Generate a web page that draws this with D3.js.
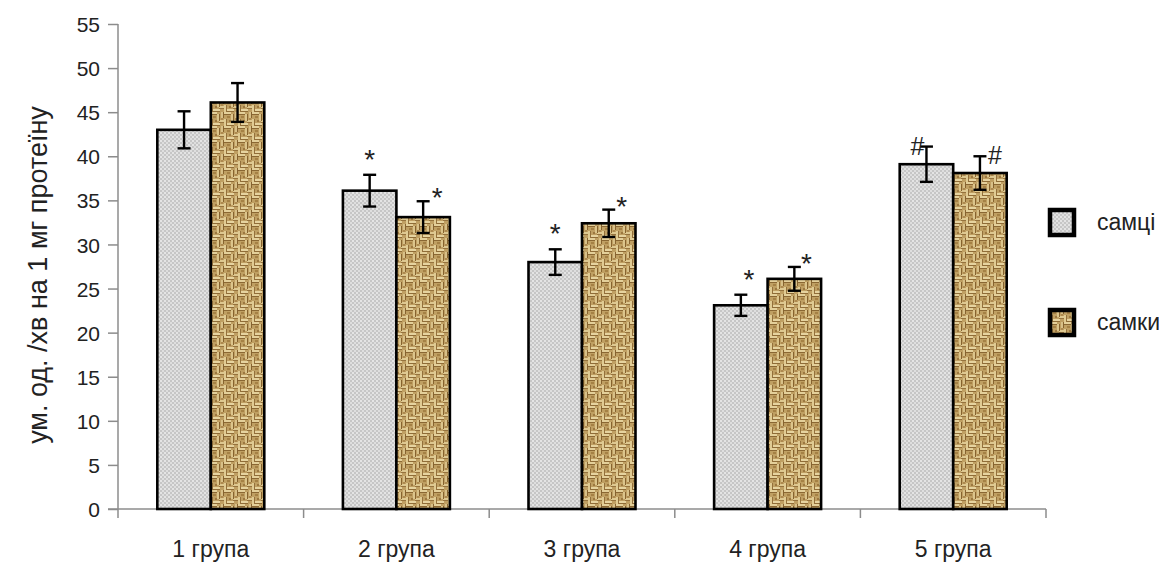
<!DOCTYPE html>
<html><head><meta charset="utf-8">
<script src="https://cdn.jsdelivr.net/npm/d3@7"></script>
<style>body{margin:0;background:#fff}svg{display:block}text{font-family:"Liberation Sans",Arial,sans-serif}</style>
</head><body>
<svg id="c" width="1159" height="564"></svg>
<script>
const categories = ["1 група","2 група","3 група","4 група","5 група"];
const seriesNames = ["самці","самки"];
const males = [43.0, 36.1, 28.0, 23.1, 39.1];
const females = [46.1, 33.1, 32.4, 26.1, 38.1];
const maleErr = [2.1, 1.8, 1.45, 1.2, 2.0];
const femaleErr = [2.2, 1.8, 1.55, 1.35, 1.9];
const maleMarks = ["", "*", "*", "*", "#"];
const femaleMarks = ["", "*", "*", "*", "#"];
const yTicks = [0,5,10,15,20,25,30,35,40,45,50,55];

const svg = d3.select("#c");
const defs = svg.append("defs");
// male pattern: grey with white dots
const pm = defs.append("pattern").attr("id","pm").attr("patternUnits","userSpaceOnUse").attr("width",4).attr("height",4);
pm.append("rect").attr("width",4).attr("height",4).attr("fill","#c6c6c6");
pm.append("circle").attr("cx",1).attr("cy",1).attr("r",1).attr("fill","#eeeeee");
pm.append("circle").attr("cx",3).attr("cy",3).attr("r",1).attr("fill","#e6e6e6");
// female pattern: burlap weave
const pf = defs.append("pattern").attr("id","pf").attr("patternUnits","userSpaceOnUse").attr("width",14).attr("height",14);
pf.append("rect").attr("width",14).attr("height",14).attr("fill","#bf9f62");
const weave = [
  [0,0,7,2,"#e4d09a"],[7,2,2,7,"#dcc58c"],[0,7,2,7,"#e0cb93"],[3,11,7,2,"#e6d39f"],[11,0,2,6,"#d8c088"],[9,8,5,2,"#dec890"],
  [0,2,7,1,"#8a6733"],[9,2,1,7,"#86632f"],[2,7,1,7,"#93703b"],[3,13,7,1,"#8f6c37"],[13,0,1,6,"#86632f"],[9,10,5,1,"#96733e"],
  [3,4,3,2,"#a58145"],[11,6,2,2,"#ad894f"],[5,8,2,2,"#9c7840"]
];
weave.forEach(w=>pf.append("rect").attr("x",w[0]).attr("y",w[1]).attr("width",w[2]).attr("height",w[3]).attr("fill",w[4]));

const x0 = d3.scaleBand().domain(categories).range([118,1046]).padding(0);
const x1 = d3.scaleBand().domain(seriesNames).range([0,x0.bandwidth()]).paddingInner(0).paddingOuter(0.735);
const y = d3.scaleLinear().domain([0,55]).range([509,24]);

// y axis
const ya = svg.append("g").attr("transform","translate(118,0)")
  .call(d3.axisLeft(y).tickValues(yTicks).tickSize(10).tickPadding(8));
ya.select(".domain").attr("stroke","#8c8c8c").attr("stroke-width",1.5).attr("d","M0,24V509");
ya.selectAll(".tick line").attr("stroke","#8c8c8c").attr("stroke-width",1.5);
ya.selectAll(".tick text").attr("font-size",21).attr("fill","#222").attr("dy","0.36em");

// x axis
const xa = svg.append("g").attr("transform","translate(0,509)");
xa.append("line").attr("x1",108).attr("x2",1046).attr("stroke","#8c8c8c").attr("stroke-width",1.5);
const bounds = categories.map(c=>x0(c)).concat([x0(categories[4])+x0.bandwidth()]);
xa.selectAll("line.t").data(bounds).enter().append("line").attr("class","t")
  .attr("x1",d=>d).attr("x2",d=>d).attr("y1",0).attr("y2",9).attr("stroke","#8c8c8c").attr("stroke-width",1.5);
xa.selectAll("text").data(categories).enter().append("text")
  .attr("x",d=>x0(d)+x0.bandwidth()/2).attr("y",48).attr("text-anchor","middle")
  .attr("font-size",23).attr("fill","#222").text(d=>d);

// y title
svg.append("text").attr("transform","translate(47,275) rotate(-90)").attr("text-anchor","middle")
  .attr("font-size",27).attr("fill","#222").text("ум. од. /хв на 1 мг протеїну");

const series = [
  {name:seriesNames[0], vals:males, err:maleErr, marks:maleMarks, fill:"url(#pm)", mdx:[0,0,0,8,-9], mdy:-6},
  {name:seriesNames[1], vals:females, err:femaleErr, marks:femaleMarks, fill:"url(#pf)", mdx:[14,14,13,12,15], mdy:6}
];
series.forEach(s=>{
  const g = svg.append("g");
  categories.forEach((c,i)=>{
    const bx = x0(c)+x1(s.name), bw = x1.bandwidth(), cx = bx+bw/2;
    g.append("rect").attr("x",bx).attr("y",y(s.vals[i])).attr("width",bw).attr("height",y(0)-y(s.vals[i]))
      .attr("fill",s.fill).attr("stroke","#000").attr("stroke-width",2.6);
    const hi = y(s.vals[i]+s.err[i]), lo = y(s.vals[i]-s.err[i]);
    g.append("line").attr("x1",cx).attr("x2",cx).attr("y1",hi).attr("y2",lo).attr("stroke","#000").attr("stroke-width",2.4);
    g.append("line").attr("x1",cx-6.5).attr("x2",cx+6.5).attr("y1",hi).attr("y2",hi).attr("stroke","#000").attr("stroke-width",2.4);
    g.append("line").attr("x1",cx-6.5).attr("x2",cx+6.5).attr("y1",lo).attr("y2",lo).attr("stroke","#000").attr("stroke-width",2.4);
    const m = s.marks[i];
    if (m) {
      const isHash = m === "#";
      g.append("text").attr("x",cx+s.mdx[i]).attr("y",isHash ? hi+8 : hi+s.mdy)
        .attr("text-anchor","middle").attr("font-family","Liberation Serif, serif")
        .attr("font-size",isHash?25:28).attr("fill","#222").text(m);
    }
  });
});

// legend
const lg = svg.append("g");
seriesNames.forEach((n,i)=>{
  const cy = 222 + i*100;
  lg.append("rect").attr("x",1050).attr("y",cy-12).attr("width",24).attr("height",25)
    .attr("fill",i===0?"url(#pm)":"url(#pf)").attr("stroke","#000").attr("stroke-width",4.5);
  lg.append("text").attr("x",1097).attr("y",cy+8).attr("font-size",23).attr("fill","#222").text(n);
});
</script>
</body></html>
